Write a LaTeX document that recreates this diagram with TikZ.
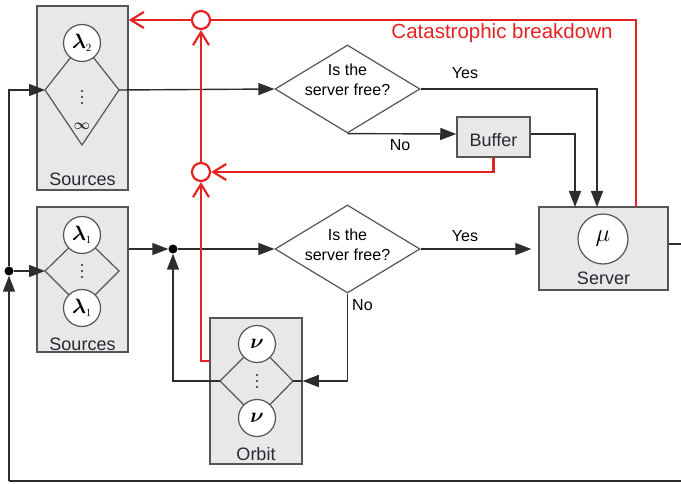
\documentclass[tikz,border=0pt]{standalone}
\usepackage{amsmath}
\usepackage{fontspec}
\setmainfont{Liberation Sans}
\usetikzlibrary{arrows.meta,shapes.geometric}
\definecolor{boxfill}{RGB}{232,232,232}
\definecolor{boxline}{RGB}{85,85,85}
\definecolor{lineg}{RGB}{45,45,45}
\definecolor{catred}{RGB}{230,35,35}
\definecolor{txt}{RGB}{40,40,50}
\begin{document}
\begin{tikzpicture}[x=1pt,y=-1pt,
  box/.style={draw=boxline, fill=boxfill, line width=1.5pt, inner sep=0},
  circ/.style={circle, draw=boxline, fill=white, line width=1.2pt, minimum size=37pt, inner sep=0, font=\fontsize{21}{21}\selectfont},
  kite/.style={draw=boxline, line width=1.2pt},
  flow/.style={draw=lineg, line width=1.4pt, -{Triangle[length=16pt,width=12pt]}},
  plain/.style={draw=lineg, line width=1.4pt},
  redl/.style={draw=catred, line width=2.2pt},
  reda/.style={redl, -{Straight Barb[length=13pt,width=16pt]}},
  lbl/.style={font=\fontsize{18}{18}\selectfont, text=txt},
  dec/.style={diamond, draw=boxline, fill=white, line width=1.2pt, inner sep=0, minimum width=145pt, minimum height=88pt},
  dectxt/.style={align=center, font=\fontsize{16}{19.5}\selectfont, inner sep=0},
  yn/.style={font=\fontsize{16}{16}\selectfont, inner sep=0},
  jdot/.style={circle, fill=black, inner sep=0, minimum size=9pt},
  rcirc/.style={circle, draw=catred, line width=2.2pt, fill=white, minimum size=18pt, inner sep=0},
  vdot/.style={fill=txt},
]
\useasboundingbox (0,0) rectangle (681,484);

% boxes
\node[box, minimum width=91pt, minimum height=184pt] (src1) at (82.5,98) {};
\node[box, minimum width=91pt, minimum height=145pt] (src2) at (82.5,279.5) {};
\node[box, minimum width=92pt, minimum height=146pt] (orb) at (256,391) {};
\node[box, minimum width=73pt, minimum height=40pt] (buf) at (493.5,137) {};
\node[box, minimum width=129pt, minimum height=83pt] (srv) at (603.5,248.5) {};

% labels
\node[lbl] (lsrc1) at (82.5,179) {Sources};
\node[lbl] (lsrc2) at (82.5,344) {Sources};
\node[lbl] (lorb) at (256,454) {Orbit};
\node[lbl] (lbuf) at (493.5,140.5) {Buffer};
\node[lbl] (lsrv) at (603.5,278) {Server};

% top sources kite
\coordinate (k1t) at (82,43);
\coordinate (k1l) at (45,90);
\coordinate (k1r) at (119,90);
\coordinate (k1b) at (82,145);
\draw[kite] (k1t) -- (k1l) -- (k1b) -- (k1r) -- cycle;
\node[circ] (l2) at (k1t) {$\boldsymbol{\lambda}_{\scriptscriptstyle 2}$};
\foreach \yy in {91,97,103} \fill[vdot] (82,\yy) circle (1.2);
\node[font=\fontsize{14}{14}\selectfont, text=txt, inner sep=0] (inf) at (82,126) {$\boldsymbol{\infty}$};

% lower sources kite
\coordinate (k2t) at (82,235);
\coordinate (k2l) at (45,271);
\coordinate (k2r) at (119,271);
\coordinate (k2b) at (82,308);
\draw[kite] (k2t) -- (k2l) -- (k2b) -- (k2r) -- cycle;
\node[circ] (l1a) at (k2t) {$\boldsymbol{\lambda}_{\scriptscriptstyle 1}$};
\node[circ] (l1b) at (k2b) {$\boldsymbol{\lambda}_{\scriptscriptstyle 1}$};
\foreach \yy in {265,271,277} \fill[vdot] (82,\yy) circle (1.2);

% orbit kite
\coordinate (k3t) at (257,344);
\coordinate (k3l) at (220,381);
\coordinate (k3r) at (293,381);
\coordinate (k3b) at (257,418);
\draw[kite] (k3t) -- (k3l) -- (k3b) -- (k3r) -- cycle;
\node[circ] (nu1) at (k3t) {$\boldsymbol{\nu}$};
\node[circ] (nu2) at (k3b) {$\boldsymbol{\nu}$};
\foreach \yy in {375,381,387} \fill[vdot] (257,\yy) circle (1.2);

% server circle
\node[circ, minimum size=50pt, font=\fontsize{25}{25}\selectfont] (mu) at (603,239) {$\mu$};

% decisions
\node[dec] (q1) at (347.5,89) {};
\node[dectxt] (t1) at (347.5,80) {Is the\\server free?};
\node[dec] (q2) at (347.5,249) {};
\node[dectxt] (t2) at (347.5,245) {Is the\\server free?};

% junctions
\node[jdot] (j1) at (9,271) {};
\node[jdot] (j2) at (173,249) {};
\coordinate (s1) at (597,207);
\coordinate (s2) at (575,207);
\coordinate (s3) at (636,207);
\coordinate (outR) at (681,244);
\coordinate (outB) at (681,481);
\coordinate (bl) at (9,481);

% black connectors
\draw[flow] (k1r) -- (q1.west);
\draw[flow] (q1.east) -| (s1);
\draw[flow] (q1.south) -- ([yshift=3pt]buf.west);
\draw[flow] ([yshift=3pt]buf.east) -| (s2);
\draw[flow] (src2.east |- j2) -- (j2);
\draw[flow] (j2) -- (q2.west);
\draw[flow, shorten >=7pt] (q2.east) -- (q2.east -| srv.west);
\draw[flow] (q2.south) |- (orb.east |- k3r);
\draw[plain] (orb.east |- k3r) -- (k3r);
\draw[flow] (k3l) -- (k3l -| j2) -- (j2);
\draw[plain] (srv.east |- outR) -- (outR);
\draw[plain] (outB) -- (bl);
\draw[flow] (bl) -- (j1);
\draw[flow] (j1) |- (k1l);
\draw[flow] (j1) -- (k2l);

% connector labels
\node[yn] (y1) at (465,73) {Yes};
\node[yn] (n1) at (400,145) {No};
\node[yn] (y2) at (465,236) {Yes};
\node[yn, anchor=west] (n2) at (352,305) {No};

% red part
\node[rcirc] (rc1) at (201,20) {};
\node[rcirc] (rc2) at (201,172) {};
\draw[redl] (s3) |- (rc1.east);
\draw[reda] (rc1.west) -- (rc1.west -| src1.east);
\draw[reda] (rc2.north) -- (rc1.south);
\draw[reda] (buf.south) |- (rc2.east);
\draw[reda] ([yshift=30pt]orb.west) -| (rc2.south);
\node[text=catred, font=\fontsize{20.5}{20.5}\selectfont, inner sep=0] (cat) at (502,33) {Catastrophic breakdown};
\end{tikzpicture}
\end{document}
